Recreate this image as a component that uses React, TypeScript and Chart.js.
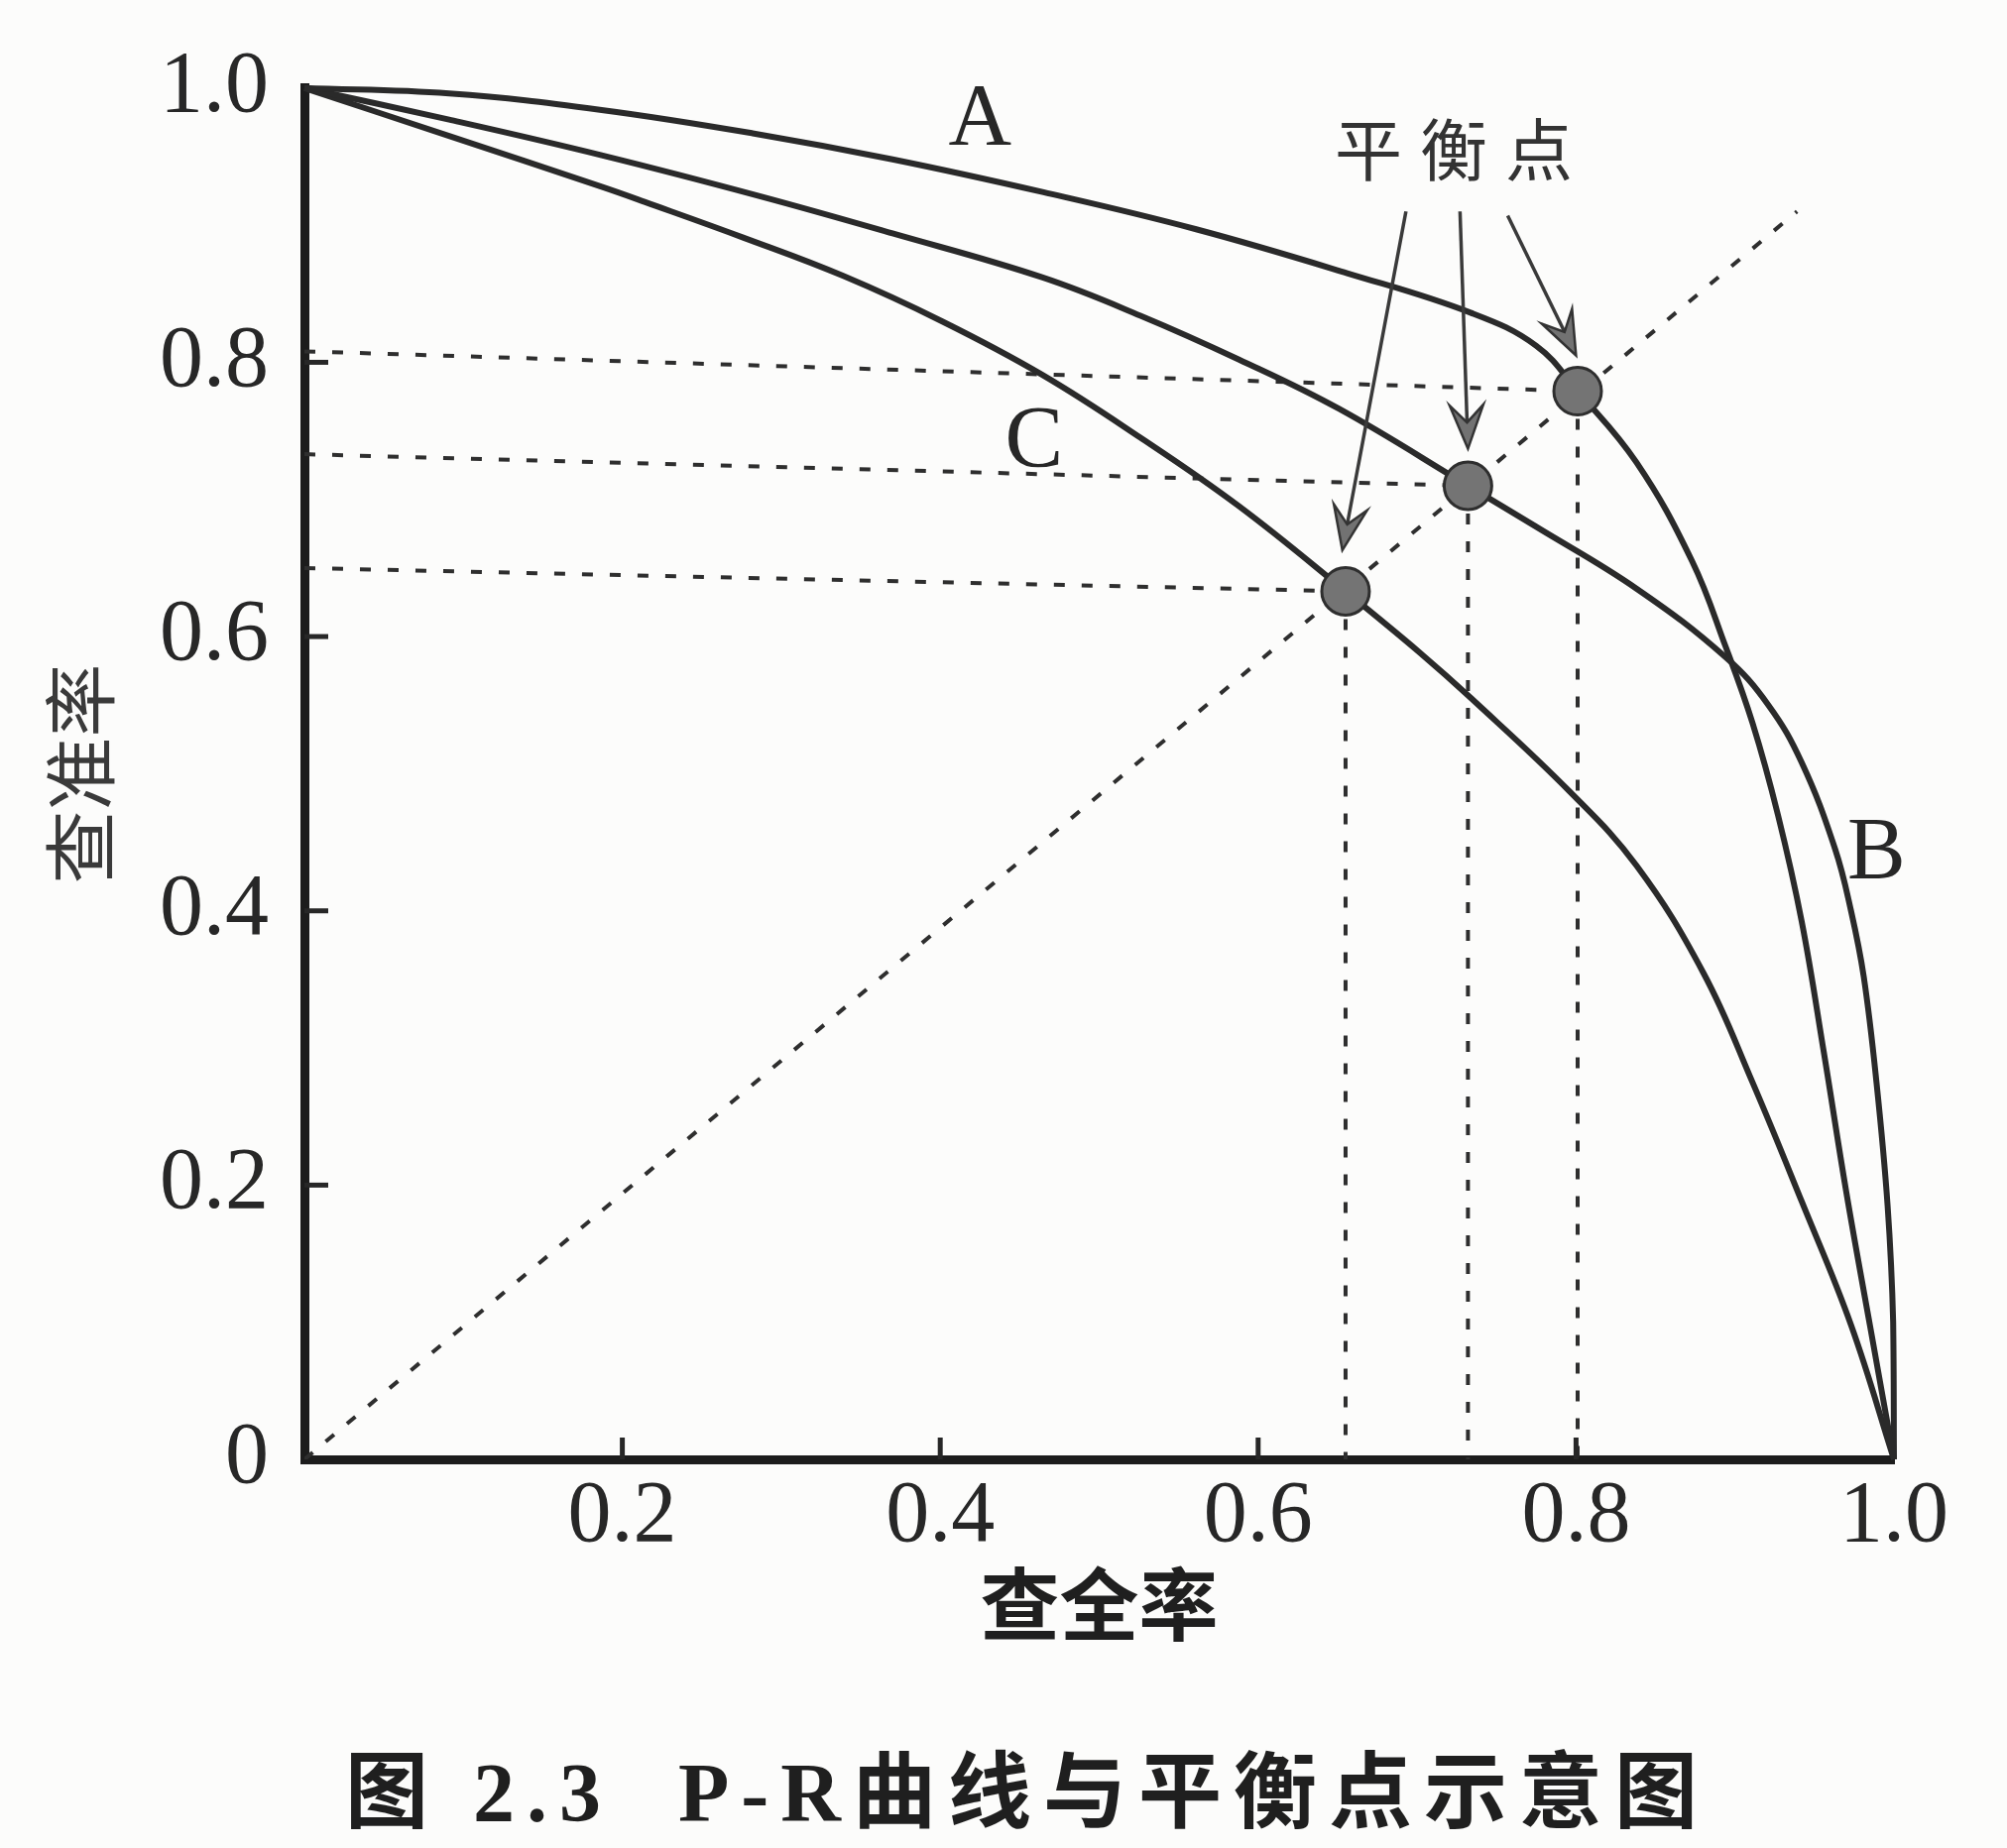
import React, { useEffect, useRef } from 'react';
import { Chart, registerables } from 'chart.js';

Chart.register(...registerables);

// ---- data (recall = x, precision = y) ----
const recallA = [0, 0.091, 0.187, 0.282, 0.37, 0.465, 0.561, 0.656, 0.734, 0.775, 0.801, 0.838, 0.873, 0.894, 0.911, 0.927, 0.942, 0.956, 0.97, 0.985, 1.0];
const precisionA = [1.0, 0.996, 0.984, 0.967, 0.948, 0.924, 0.897, 0.865, 0.836, 0.812, 0.779, 0.727, 0.655, 0.593, 0.537, 0.47, 0.392, 0.296, 0.195, 0.097, 0];

const recallB = [0, 0.091, 0.187, 0.287, 0.37, 0.464, 0.526, 0.588, 0.651, 0.732, 0.775, 0.838, 0.894, 0.921, 0.942, 0.963, 0.973, 0.981, 0.989, 0.996, 0.9995, 1.0];
const precisionB = [1.0, 0.977, 0.951, 0.921, 0.894, 0.862, 0.834, 0.802, 0.766, 0.71, 0.68, 0.635, 0.585, 0.55, 0.508, 0.445, 0.4, 0.352, 0.275, 0.185, 0.1, 0];

const recallC = [0, 0.091, 0.187, 0.214, 0.276, 0.339, 0.401, 0.464, 0.526, 0.588, 0.655, 0.702, 0.734, 0.796, 0.838, 0.88, 0.911, 0.942, 0.973, 1.0];
const precisionC = [1.0, 0.965, 0.928, 0.917, 0.891, 0.863, 0.83, 0.791, 0.745, 0.695, 0.633, 0.588, 0.555, 0.487, 0.433, 0.355, 0.275, 0.188, 0.098, 0];

// break-even points (A, B, C)
const balanceX = [0.801, 0.732, 0.655];
const balanceY = [0.779, 0.71, 0.633];
// where the horizontal guide lines meet the y axis
const guideStartY = [0.808, 0.733, 0.65];

// diagonal P = R guide
const diagX = [0, 0.939];
const diagY = [0, 0.91];

// arrows from the "平衡点" label
const arrowFromX = [0.693, 0.727, 0.757];
const arrowFromY = [0.91, 0.91, 0.907];
const arrowToX = [0.653, 0.732, 0.8];
const arrowToY = [0.663, 0.737, 0.805];

// curve labels
const curveNames = ['A', 'B', 'C'];
const curveLabelX = [0.425, 0.989, 0.459];
const curveLabelY = [0.976, 0.441, 0.741];

const balanceLabel = '平衡点';
const balanceLabelX = [0.723];
const balanceLabelY = [0.955];

const xTitle = '查全率';
const yTitle = '查准率';
const caption = '图 2.3  P-R曲线与平衡点示意图';

const tickStep = 0.2;
const innerTicks = [0.2, 0.4, 0.6, 0.8];

const INK = '#272727';
const SERIF = '"Liberation Serif", "Noto Sans CJK SC", serif';
const CJK = '"Noto Sans CJK SC", sans-serif';

const zip = (xs: number[], ys: number[]) => xs.map((x, i) => ({ x, y: ys[i] }));

const decorPlugin = {
  id: 'decor',
  afterDatasetsDraw(chart: any) {
    const { ctx, scales, chartArea } = chart;
    const xs = scales.x;
    const ys = scales.y;
    ctx.save();
    // inward ticks
    ctx.strokeStyle = INK;
    ctx.lineWidth = 5;
    innerTicks.forEach((v) => {
      const py = ys.getPixelForValue(v);
      ctx.beginPath();
      ctx.moveTo(chartArea.left, py);
      ctx.lineTo(chartArea.left + 24, py);
      ctx.stroke();
      const px = xs.getPixelForValue(v);
      ctx.beginPath();
      ctx.moveTo(px, chartArea.bottom);
      ctx.lineTo(px, chartArea.bottom - 22);
      ctx.stroke();
    });
    // arrows
    arrowFromX.forEach((_, i) => {
      const fx = xs.getPixelForValue(arrowFromX[i]);
      const fy = ys.getPixelForValue(arrowFromY[i]);
      const tx = xs.getPixelForValue(arrowToX[i]);
      const ty = ys.getPixelForValue(arrowToY[i]);
      const ang = Math.atan2(ty - fy, tx - fx);
      const dx = Math.cos(ang);
      const dy = Math.sin(ang);
      const L = 44;
      const W = 17;
      ctx.strokeStyle = '#3a3a3a';
      ctx.lineWidth = 3.5;
      ctx.beginPath();
      ctx.moveTo(fx, fy);
      ctx.lineTo(tx - dx * L * 0.6, ty - dy * L * 0.6);
      ctx.stroke();
      ctx.beginPath();
      ctx.moveTo(tx, ty);
      ctx.lineTo(tx - dx * L - dy * W, ty - dy * L + dx * W);
      ctx.lineTo(tx - dx * L * 0.6, ty - dy * L * 0.6);
      ctx.lineTo(tx - dx * L + dy * W, ty - dy * L - dx * W);
      ctx.closePath();
      ctx.fillStyle = '#727272';
      ctx.fill();
      ctx.lineWidth = 2.5;
      ctx.strokeStyle = '#333';
      ctx.stroke();
    });
    ctx.restore();
  },
  afterDraw(chart: any) {
    const { ctx, scales } = chart;
    const xs = scales.x;
    const ys = scales.y;
    ctx.save();
    ctx.fillStyle = INK;
    ctx.textAlign = 'center';
    ctx.textBaseline = 'middle';
    ctx.font = `88px ${SERIF}`;
    curveNames.forEach((n, i) => {
      ctx.fillText(n, xs.getPixelForValue(curveLabelX[i]), ys.getPixelForValue(curveLabelY[i]));
    });
    ctx.font = `68px ${CJK}`;
    (ctx as any).letterSpacing = '18px';
    ctx.fillStyle = '#333';
    ctx.fillText(balanceLabel, xs.getPixelForValue(balanceLabelX[0]) + 9, ys.getPixelForValue(balanceLabelY[0]));
    ctx.font = `bold 84px ${SERIF}`;
    (ctx as any).letterSpacing = '12px';
    ctx.fillStyle = '#1f1f1f';
    ctx.fillText(caption, 1036, 1815);
    (ctx as any).letterSpacing = '0px';
    ctx.restore();
  },
};

export default function App() {
  const ref = useRef<HTMLCanvasElement | null>(null);
  useEffect(() => {
    if (!ref.current) return;
    const dashStyle = {
      borderColor: '#2e2e2e',
      borderWidth: 4,
      borderDash: [11, 17],
      pointRadius: 0,
      fill: false,
      tension: 0,
      order: 3,
    };
    const curveStyle = {
      borderColor: '#2a2a2a',
      borderWidth: 6,
      pointRadius: 0,
      fill: false,
      tension: 0.4,
      clip: false as any,
      order: 2,
    };
    const datasets: any[] = [
      { label: 'A', data: zip(recallA, precisionA), ...curveStyle },
      { label: 'B', data: zip(recallB, precisionB), ...curveStyle },
      { label: 'C', data: zip(recallC, precisionC), ...curveStyle },
      { label: 'diag', data: zip(diagX, diagY), ...dashStyle },
      ...balanceX.map((bx, i) => ({
        label: 'h' + i,
        data: [{ x: 0, y: guideStartY[i] }, { x: bx, y: balanceY[i] }],
        ...dashStyle,
      })),
      ...balanceX.map((bx, i) => ({
        label: 'v' + i,
        data: [{ x: bx, y: balanceY[i] }, { x: bx, y: 0 }],
        ...dashStyle,
      })),
      {
        label: 'balance',
        data: zip(balanceX, balanceY),
        showLine: false,
        pointRadius: 24,
        pointBackgroundColor: '#747474',
        pointBorderColor: '#2e2e2e',
        pointBorderWidth: 3,
        order: 0,
      },
    ];
    const chart = new Chart(ref.current, {
      type: 'line',
      data: { datasets },
      plugins: [decorPlugin],
      options: {
        responsive: false,
        animation: false,
        devicePixelRatio: 1,
        layout: { padding: { left: 0, top: 82, right: 114, bottom: 0 } },
        plugins: {
          legend: { display: false },
          tooltip: { enabled: false },
          title: { display: false },
        },
        scales: {
          x: {
            type: 'linear',
            position: 'bottom',
            min: 0,
            max: 1,
            afterFit: (s: any) => {
              s.height = 392;
            },
            border: { display: true, color: '#1c1c1c', width: 9 },
            grid: { display: false, drawTicks: false },
            ticks: {
              stepSize: tickStep,
              padding: 6,
              autoSkip: false,
              maxRotation: 0,
              color: INK,
              font: { family: SERIF, size: 88 },
              callback: (v: any) => (Number(v) === 0 ? '' : Number(v).toFixed(1)),
            },
            title: {
              display: true,
              text: xTitle,
              align: 'center',
              color: '#1f1f1f',
              font: { family: CJK, size: 80, weight: 'bold' },
              padding: { top: 0, bottom: 198 },
            },
          },
          y: {
            type: 'linear',
            position: 'left',
            min: 0,
            max: 1,
            afterFit: (s: any) => {
              s.width = 307;
            },
            border: { display: true, color: '#1c1c1c', width: 9 },
            grid: { display: false, drawTicks: false },
            ticks: {
              stepSize: tickStep,
              padding: 36,
              autoSkip: false,
              color: INK,
              font: { family: SERIF, size: 88 },
              callback: (v: any) => (Number(v) === 0 ? '0' : Number(v).toFixed(1)),
            },
            title: {
              display: true,
              text: yTitle,
              color: '#3a3a3a',
              font: { family: CJK, size: 74 },
              padding: { top: 36, bottom: 0 },
            },
          },
        },
      } as any,
    });
    return () => chart.destroy();
  }, []);

  return (
    <div style={{ position: 'fixed', left: 0, top: 0, width: 2024, height: 1864, background: '#fcfcfb' }}>
      <canvas ref={ref} width={2024} height={1864} style={{ display: 'block' }} />
    </div>
  );
}
